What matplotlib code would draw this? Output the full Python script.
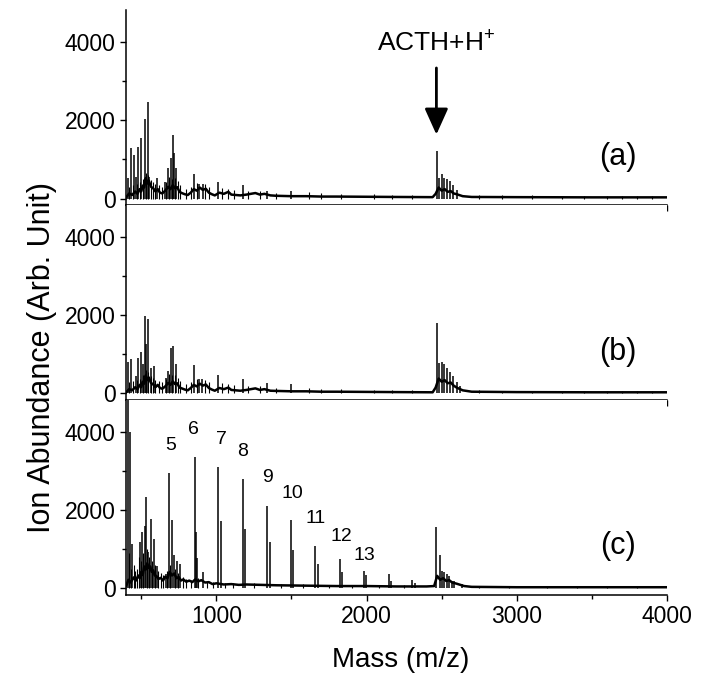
import matplotlib.pyplot as plt

plt.rcParams['font.family'] = ['Liberation Sans', 'DejaVu Sans']
plt.rcParams['mathtext.fontset'] = 'custom'
plt.rcParams['mathtext.rm'] = 'Liberation Sans'

# ---- panel (a) ----
a_peak_mz = [415, 433, 453, 466, 482, 500, 524, 542, 555, 606, 659, 677, 699, 713, 719, 731,
             852, 888, 910, 1012, 1178, 1336, 1496,
             2467, 2485, 2500, 2518, 2538, 2556, 2573, 2600]
a_peak_int = [520, 1290, 1120, 560, 1315, 1550, 2020, 2470, 560, 520, 420, 780, 1030, 1630, 1160, 780,
              630, 370, 370, 410, 350, 200, 180,
              1205, 520, 615, 520, 490, 440, 350, 230]
a_small_mz = [420, 445, 475, 490, 512, 532, 548, 565, 578, 592, 620, 640, 668, 688, 706, 725, 745,
              760, 800, 830, 870, 925, 950, 1040, 1080, 1120, 1210, 1290, 1400, 1620, 1700, 1830,
              2050, 2170, 2300, 2750, 2900, 3100, 3300, 3450, 3600, 3700, 3800, 3900]
a_small_int = [300, 350, 380, 420, 500, 650, 600, 480, 430, 380, 350, 300, 420, 550, 500, 520, 450,
               350, 250, 300, 400, 380, 300, 280, 250, 230, 200, 200, 150, 160, 130, 120,
               110, 100, 90, 90, 80, 80, 70, 70, 70, 70, 70, 70]
a_base_mz = [400, 420, 440, 460, 475, 490, 500, 510, 520, 530, 540, 550, 565, 580, 595, 610, 625, 640,
             660, 680, 695, 710, 725, 740, 755, 770, 790, 810, 830, 850, 870, 890, 910, 930, 950,
             970, 990, 1020, 1050, 1080, 1100, 1130, 1160, 1200, 1230, 1260, 1290, 1320, 1360,
             1400, 1500, 1600, 1700, 1800, 2000, 2200, 2440, 2460, 2480, 2500, 2520, 2540, 2560,
             2580, 2600, 2640, 2700, 3000, 3500, 4000]
a_base_int = [30, 130, 90, 180, 120, 240, 180, 330, 280, 520, 380, 460, 300, 260, 180, 240, 150, 130,
              200, 300, 240, 340, 260, 290, 170, 140, 110, 90, 150, 240, 200, 280, 220, 250, 150,
              110, 80, 150, 120, 170, 100, 90, 80, 100, 120, 140, 100, 120, 80,
              70, 60, 60, 50, 50, 45, 40, 35, 120, 280, 200, 240, 170, 190, 130, 110, 60, 40,
              35, 30, 30]

# ---- panel (b) ----
b_peak_mz = [411, 430, 466, 482, 500, 511, 524, 535, 542, 564, 584, 662, 677, 699, 713, 731,
             852, 888, 908, 1012, 1178, 1336, 1498,
             2467, 2485, 2500, 2518, 2538, 2556, 2573, 2600, 2620]
b_peak_int = [810, 870, 440, 910, 1060, 740, 1975, 1250, 1890, 655, 700, 400, 570, 1165, 1210, 740,
              715, 360, 360, 460, 360, 270, 230,
              1790, 780, 800, 760, 650, 560, 450, 300, 200]
b_small_mz = a_small_mz
b_small_int = [280, 320, 350, 380, 460, 600, 560, 440, 400, 350, 320, 280, 380, 500, 460, 480, 400,
               320, 230, 280, 380, 350, 280, 260, 230, 210, 180, 180, 140, 150, 120, 110,
               100, 90, 80, 80, 70, 70, 60, 60, 60, 60, 60, 60]
b_base_mz = a_base_mz
b_base_int = [30, 110, 80, 160, 110, 220, 160, 300, 250, 460, 340, 410, 270, 230, 160, 220, 140, 120,
              180, 270, 220, 310, 240, 260, 150, 130, 100, 80, 140, 220, 180, 250, 200, 230, 140,
              100, 70, 140, 110, 150, 90, 80, 70, 90, 110, 130, 90, 110, 70,
              65, 55, 55, 45, 45, 40, 35, 30, 150, 380, 300, 340, 260, 280, 200, 150, 80, 45,
              35, 30, 30]

# ---- panel (c) ----
c_peak_mz = [410, 427, 440, 493, 506, 522, 531, 544, 564, 584, 604, 664, 688, 706, 719, 737, 759,
             857, 866, 870, 910, 1012, 1030, 1178, 1188, 1338, 1355, 1498, 1513, 1658, 1674,
             1820, 1836, 1982, 1996, 2148, 2161, 2305, 2320,
             2465, 2487, 2505, 2518, 2534, 2549, 2567, 2585, 2633]
c_peak_int = [6000, 3980, 1140, 1180, 1435, 1600, 2330, 920, 1780, 1265, 580, 370, 2930, 1735, 840,
              710, 620, 3360, 1450, 780, 410, 3100, 1710, 2790, 1520, 2100, 1180, 1735, 990, 1080,
              620, 750, 430, 450, 340, 370, 200, 220, 150,
              1564, 855, 450, 410, 370, 325, 200, 180, 120]
c_small_mz = [418, 433, 450, 462, 475, 485, 500, 514, 537, 552, 572, 592, 615, 630, 645, 675, 695,
              728, 748, 775, 800, 830, 880, 940, 980, 1060, 1110, 1250, 1430, 1580, 1750, 1900,
              2080, 2250, 2750, 2950, 3200, 3400, 3600, 3800]
c_small_int = [900, 500, 600, 450, 500, 800, 700, 900, 1000, 800, 700, 600, 450, 400, 350, 450, 600,
               500, 400, 300, 250, 220, 260, 200, 170, 150, 140, 130, 110, 100, 90, 90,
               80, 80, 60, 60, 50, 50, 50, 50]
c_base_mz = [400, 415, 430, 450, 465, 480, 490, 500, 510, 520, 530, 540, 550, 560, 570, 580, 590,
             600, 615, 630, 645, 660, 675, 690, 705, 720, 735, 750, 765, 780, 800, 820, 840, 860,
             880, 900, 925, 950, 975, 1000, 1050, 1100, 1150, 1200, 1300, 1400, 1600, 1800, 2000,
             2200, 2400, 2450, 2470, 2490, 2510, 2530, 2550, 2570, 2600, 2650, 2700, 3000, 4000]
c_base_int = [60, 220, 150, 280, 200, 330, 260, 420, 340, 560, 480, 640, 520, 560, 420, 460, 330,
              320, 240, 270, 200, 300, 260, 420, 330, 380, 260, 290, 200, 230, 170, 200, 160, 230,
              180, 210, 150, 160, 110, 130, 100, 110, 90, 100, 90, 80, 70, 60, 60,
              50, 50, 60, 320, 220, 260, 190, 210, 150, 120, 60, 40, 30, 30]

# series labels in (c)
c_label_text = ['5', '6', '7', '8', '9', '10', '11', '12', '13']
c_label_mz = [693, 846, 1032, 1178, 1338, 1504, 1664, 1830, 1983]
c_label_int = [3640, 4050, 3800, 3490, 2820, 2410, 1770, 1330, 850]

panel_names = ['(a)', '(b)', '(c)']
peak_mz = [a_peak_mz, b_peak_mz, c_peak_mz]
peak_int = [a_peak_int, b_peak_int, c_peak_int]
small_mz = [a_small_mz, b_small_mz, c_small_mz]
small_int = [a_small_int, b_small_int, c_small_int]
base_mz = [a_base_mz, b_base_mz, c_base_mz]
base_int = [a_base_int, b_base_int, c_base_int]

fig = plt.figure(figsize=(7.01, 6.84), dpi=100)
gs = fig.add_gridspec(3, 1, left=0.18, right=0.9515, top=0.985, bottom=0.13, hspace=0)
axes = []
for i in range(3):
    ax = fig.add_subplot(gs[i])
    axes.append(ax)
    ax.plot(base_mz[i], base_int[i], color='k', lw=1.8)
    ax.vlines(small_mz[i], 0, small_int[i], color='k', lw=0.8)
    ax.vlines(peak_mz[i], 0, peak_int[i], color='k', lw=1.1)
    ax.set_xlim(400, 4000)
    ax.set_ylim(-170, 4800)
    ax.spines['top'].set_visible(False)
    ax.spines['right'].set_visible(False)
    for s in ['left', 'bottom']:
        ax.spines[s].set_linewidth(1.1)
    ax.set_yticks([0, 2000, 4000])
    ax.set_yticks([1000, 3000], minor=True)
    ax.set_xticks([1000, 2000, 3000, 4000])
    ax.set_xticks([500, 1500, 2500, 3500], minor=True)
    ax.tick_params(which='major', direction='out', length=4.5, width=1.0, labelsize=16.5, pad=3)
    ax.tick_params(which='minor', direction='out', length=2.8, width=1.0)
    if i < 2:
        ax.tick_params(labelbottom=False)
    ax.text(3673, 1070, panel_names[i], fontsize=22, ha='center', va='center')

# ACTH arrow in (a)
axes[0].annotate('', xy=(2465, 1560), xytext=(2465, 3400),
                 arrowprops=dict(arrowstyle='-|>,head_width=0.36,head_length=0.8',
                                 mutation_scale=20, lw=2, color='k'))
axes[0].text(2465, 3970, 'ACTH+H$^{+}$', fontsize=19, ha='center', va='center')

for t, x, y in zip(c_label_text, c_label_mz, c_label_int):
    axes[2].text(x, y, t, fontsize=14, ha='center', va='center')

fig.text(0.06, 0.478, 'Ion Abundance (Arb. Unit)', rotation=90, fontsize=22, ha='center', va='center')
fig.text(0.571, 0.035, 'Mass (m/z)', fontsize=20, ha='center', va='center')

fig.savefig('out.png', dpi=100)
